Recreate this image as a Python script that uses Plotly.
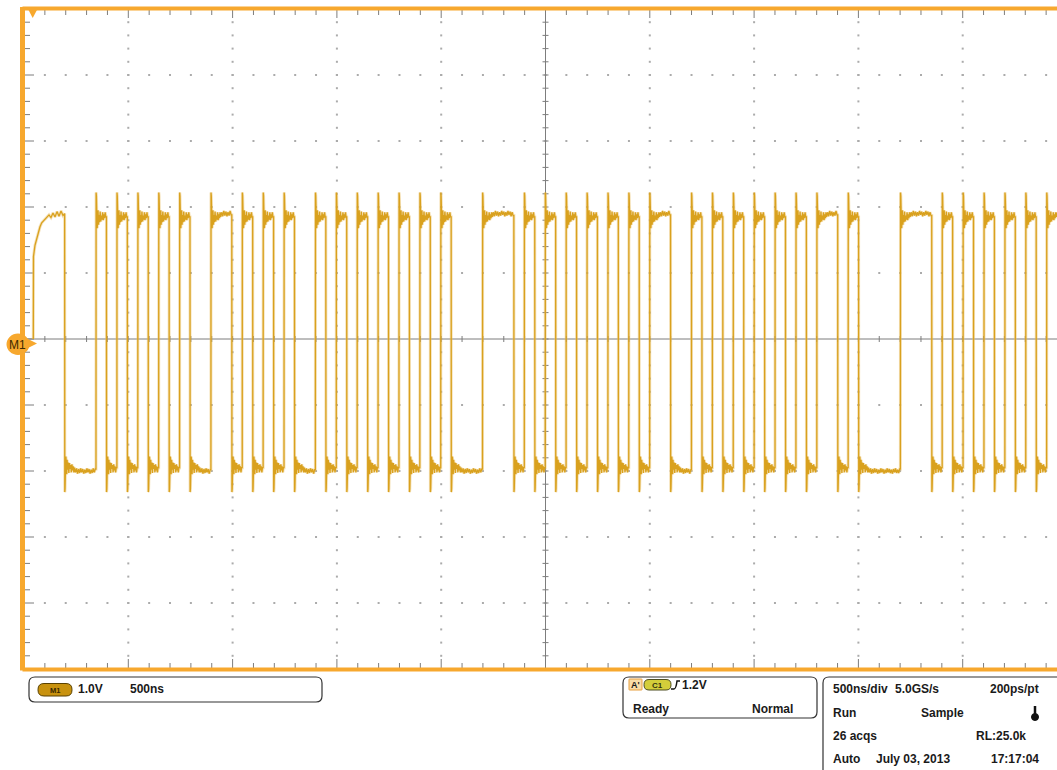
import plotly.graph_objects as go

# ---------------- data ----------------
# logic level per unit interval (1 = high, 0 = low), 50 ns per bit
bits = [1, 1, 1, 0, 0, 0,
        1, 0, 1, 0, 1, 0, 1, 0, 1,
        0, 0, 1, 1,
        0, 1, 0, 1, 0, 1,
        0, 0,
        1, 0, 1, 0, 1, 0, 1, 0, 1, 0, 1, 0, 1,
        0, 0, 0, 1, 1, 1,
        0, 1, 0, 1, 0, 1, 0, 1, 0, 1, 0, 1, 0,
        1, 1, 0, 0,
        1, 0, 1, 0, 1, 0, 1, 0, 1, 0, 1, 0,
        1, 1, 0, 1, 0, 0, 0, 0, 1, 1, 1,
        0, 1, 0, 1, 0, 1, 0, 1, 0, 1, 0,
        1, 1]
bit_ns = 50.08          # unit interval
first_edge_ns = 44.6    # first rising edge, from left graticule edge
v_high = 1.90
v_low = -2.00

# edge overshoot / ringing after a transition (ns after edge, volts in edge direction)
ring_ns = [0.6, 2, 4, 6, 8, 10, 12, 14, 17, 20, 23, 26, 29, 32, 35, 38, 41, 44, 47,
           52, 57, 62, 67, 72, 77, 82, 87, 92, 97, 102, 107, 112, 117, 122, 127,
           132, 137, 142, 147, 152, 157, 162, 167, 172, 177, 182, 187, 192, 197]
ring_v = [0.32, 0.27, -0.04, -0.22, -0.08, 0.05, -0.17, -0.02, -0.13, 0.03,
          -0.12, -0.03, -0.09, 0.02, -0.10, -0.01, -0.07, 0.02, -0.05,
          0.02, -0.04, 0.04, -0.03, 0.03, -0.04, 0.02, -0.03, 0.04, -0.02,
          0.03, -0.04, 0.02, -0.03, 0.04, -0.02, 0.03, -0.04, 0.02, -0.03,
          0.03, -0.02, 0.04, -0.03, 0.02, -0.04, 0.03, -0.02, 0.03, -0.03]

# first (power-up like) high segment
start_ns = [44.6, 45.5, 52.7, 60.9, 69.5, 76.7, 84.9, 95.9, 108.8, 119.9,
            129.4, 139.0, 148.6, 158.2, 167.8, 177.4, 187.0, 194.0]
start_v = [0.0, 1.25, 1.42, 1.52, 1.63, 1.70, 1.76, 1.80, 1.83, 1.88,
           1.84, 1.91, 1.85, 1.93, 1.86, 1.94, 1.87, 1.90]

# ---------------- screen geometry ----------------
W, H = 1057, 770
L_PX, T_PX, B_PX = 24, 9, 669
PLOT_W = W - L_PX
PLOT_H = B_PX - T_PX
NS_PER_PX = 500 / 104.3
V_PER_PX = 1 / 66
X_MAX = PLOT_W * NS_PER_PX

ORANGE = "#F7A82E"
TRACE = "#D9A11E"


def pp(px, py):
    return (px - L_PX) / PLOT_W, (B_PX - py) / PLOT_H


def round_rect(x0, y0, x1, y1, r):
    ax0, ay0 = pp(x0, y0)
    ax1, ay1 = pp(x1, y1)
    rx = r / PLOT_W
    ry = r / PLOT_H
    return (f"M {ax0+rx},{ay0} L {ax1-rx},{ay0} Q {ax1},{ay0} {ax1},{ay0-ry} "
            f"L {ax1},{ay1+ry} Q {ax1},{ay1} {ax1-rx},{ay1} L {ax0+rx},{ay1} "
            f"Q {ax0},{ay1} {ax0},{ay1+ry} L {ax0},{ay0-ry} Q {ax0},{ay0} {ax0+rx},{ay0} Z")


def poly(points):
    s = ""
    for n, (px, py) in enumerate(points):
        x, y = pp(px, py)
        s += ("M " if n == 0 else " L ") + f"{x},{y}"
    return s + " Z"


# ---------------- waveform from bits ----------------
runs = []
i = 0
while i < len(bits):
    j = i
    while j < len(bits) and bits[j] == bits[i]:
        j += 1
    runs.append((bits[i], i, j - i))
    i = j

xs, ys = [], []
for r, (b, k, n) in enumerate(runs):
    ts = first_edge_ns + k * bit_ns
    te = ts + n * bit_ns
    level = v_high if b else v_low
    if r == 0:
        xs += start_ns
        ys += start_v
    else:
        s = 1 if b else -1
        for dt, dv in zip(ring_ns, ring_v):
            if dt < n * bit_ns - 1.5:
                xs.append(ts + dt)
                ys.append(level + s * dv)
    xs.append(te)
    ys.append(ys[-1])

fig = go.Figure()

# ---------------- graticule ----------------
dx, dy = [], []
for k in range(1, 10):
    if k == 5:
        continue
    t = 500 * k
    for m in range(-25, 26):
        dx.append(t)
        dy.append(m * 0.2)
for v in [-4, -3, -2, -1, 1, 2, 3, 4]:
    for m in range(0, 50):
        dx.append(m * 100)
        dy.append(v)
fig.add_trace(go.Scatter(x=dx, y=dy, mode="markers",
                         marker=dict(symbol="square", size=2, color="#ababab"),
                         hoverinfo="skip", showlegend=False))

tx, ty = [], []


def seg(x0, y0, x1, y1):
    tx.extend([x0, x1, None])
    ty.extend([y0, y1, None])


# centre cross
seg(0, 0, X_MAX, 0)
seg(2500, -5, 2500, 5)
for m in range(0, 50):
    t = m * 100
    seg(t, -3 * V_PER_PX, t, 3 * V_PER_PX)
    ln = 9 if m % 5 == 0 else 6
    lnb = 10 if m % 5 == 0 else 6
    seg(t, 5, t, 5 - ln * V_PER_PX)
    seg(t, -5, t, -5 + lnb * V_PER_PX)
for m in range(-25, 26):
    v = m * 0.2
    seg(2500 - 3 * NS_PER_PX, v, 2500 + 3 * NS_PER_PX, v)
    ln = 10 if m % 5 == 0 else 6
    seg(0, v, ln * NS_PER_PX, v)
fig.add_trace(go.Scatter(x=tx, y=ty, mode="lines",
                         line=dict(color="#7d7d7d", width=1),
                         hoverinfo="skip", showlegend=False))

# ---------------- trace ----------------
fig.add_trace(go.Scatter(x=xs, y=ys, mode="lines",
                         line=dict(color="rgba(232,190,100,0.45)", width=3),
                         hoverinfo="skip", showlegend=False))
fig.add_trace(go.Scatter(x=xs, y=ys, mode="lines",
                         line=dict(color=TRACE, width=1.3),
                         hoverinfo="skip", showlegend=False))

shapes = []
# orange frame
fx0, _ = pp(22.5, 0)
shapes.append(dict(type="line", xref="paper", yref="paper", x0=fx0, x1=fx0,
                   y0=pp(0, 670.5)[1], y1=pp(0, 7)[1], line=dict(color=ORANGE, width=5), layer="above"))
shapes.append(dict(type="line", xref="paper", yref="paper", x0=fx0, x1=1.01,
                   y0=pp(0, 8.5)[1], y1=pp(0, 8.5)[1], line=dict(color=ORANGE, width=4), layer="above"))
shapes.append(dict(type="line", xref="paper", yref="paper", x0=fx0, x1=1.01,
                   y0=pp(0, 669.5)[1], y1=pp(0, 669.5)[1], line=dict(color=ORANGE, width=4), layer="above"))
# trigger position marker
shapes.append(dict(type="path", xref="paper", yref="paper", path=poly([(28, 9), (37.5, 9), (32.7, 18)]),
                   line=dict(width=0), fillcolor=ORANGE, layer="above"))
# M1 reference marker
c0 = pp(6.5, 333.5); c1 = pp(29.5, 355)
shapes.append(dict(type="circle", xref="paper", yref="paper", x0=c0[0], x1=c1[0], y0=c1[1], y1=c0[1],
                   line=dict(width=0), fillcolor=ORANGE, layer="above"))
shapes.append(dict(type="path", xref="paper", yref="paper", path=poly([(27, 338.5), (37, 343.5), (27, 348.5)]),
                   line=dict(width=0), fillcolor=ORANGE, layer="above"))

# bottom panels
for (x0, y0, x1, y1) in [(29, 677, 322, 702), (623, 677, 817, 718), (823, 677, 1075, 790)]:
    shapes.append(dict(type="path", xref="paper", yref="paper", path=round_rect(x0, y0, x1, y1, 6),
                       line=dict(color="#333333", width=1.2), fillcolor="white"))
# M1 badge
shapes.append(dict(type="path", xref="paper", yref="paper", path=round_rect(38, 683.5, 72, 696, 6),
                   line=dict(color="#5a4100", width=1), fillcolor="#C8920F"))
# A' box
shapes.append(dict(type="path", xref="paper", yref="paper", path=round_rect(629, 679, 642, 690, 0.5),
                   line=dict(color="#E8A040", width=1), fillcolor="#F9DCA8"))
# C1 badge
shapes.append(dict(type="path", xref="paper", yref="paper", path=round_rect(644, 679.5, 671, 690, 5),
                   line=dict(color="#4d4d20", width=1), fillcolor="#D4CE3A"))
# rising edge symbol
a = pp(671, 689); b_ = pp(674, 689); c = pp(677, 681); d = pp(680, 681)
shapes.append(dict(type="path", xref="paper", yref="paper",
                   path=f"M {a[0]},{a[1]} L {b_[0]},{b_[1]} Q {pp(676,689)[0]},{pp(676,689)[1]} {c[0]},{c[1]} L {d[0]},{d[1]}",
                   line=dict(color="#111111", width=1.5)))
# thermometer
t0 = pp(1035, 706); t1 = pp(1035, 716)
shapes.append(dict(type="line", xref="paper", yref="paper", x0=t0[0], x1=t1[0], y0=t0[1], y1=t1[1],
                   line=dict(color="#111111", width=2.5)))
c0 = pp(1031.5, 713.5); c1 = pp(1038.5, 720.5)
shapes.append(dict(type="circle", xref="paper", yref="paper", x0=c0[0], x1=c1[0], y0=c1[1], y1=c0[1],
                   line=dict(color="#111111", width=1), fillcolor="#111111"))

annotations = []


def txt(s, px, py, size=12, color="#1a1a1a", anchor="left", bold=True):
    x, y = pp(px, py)
    annotations.append(dict(text=s, x=x, y=y, xref="paper", yref="paper", showarrow=False,
                            xanchor=anchor, yanchor="middle",
                            font=dict(family="Liberation Sans, Arial", size=size, color=color,
                                      weight="bold" if bold else "normal")))


txt("M1", 17.5, 344.5, size=12, color="#3d2a00", anchor="center", bold=False)
txt("M1", 55, 690, size=7.5, color="#3a2800", anchor="center")
txt("1.0V", 76, 689)
txt("500ns", 128, 689)
txt("A'", 635.5, 685, size=9, anchor="center")
txt("C1", 657.5, 685, size=8, color="#333310", anchor="center")
txt("1.2V", 680, 685)
txt("Ready", 631, 709)
txt("Normal", 795, 709, anchor="right")
txt("500ns/div", 831, 689)
txt("5.0GS/s", 893, 689)
txt("200ps/pt", 1041, 689, anchor="right")
txt("Run", 831, 713)
txt("Sample", 919, 713)
txt("26 acqs", 831, 736)
txt("RL:25.0k", 1028, 736, anchor="right")
txt("Auto", 831, 759)
txt("July 03, 2013", 874, 759)
txt("17:17:04", 1041, 759, anchor="right")

fig.update_layout(
    width=W, height=H,
    margin=dict(l=L_PX, r=0, t=T_PX, b=H - B_PX, pad=0),
    paper_bgcolor="white", plot_bgcolor="white",
    xaxis=dict(range=[0, X_MAX], showgrid=False, zeroline=False, showticklabels=False,
               ticks="", showline=False, fixedrange=True),
    yaxis=dict(range=[-5, 5], showgrid=False, zeroline=False, showticklabels=False,
               ticks="", showline=False, fixedrange=True),
    shapes=shapes, annotations=annotations, showlegend=False,
)

fig.write_html("out.html", config={"displayModeBar": False},
               post_script="document.body.style.margin='0px';document.body.style.overflow='hidden';")
